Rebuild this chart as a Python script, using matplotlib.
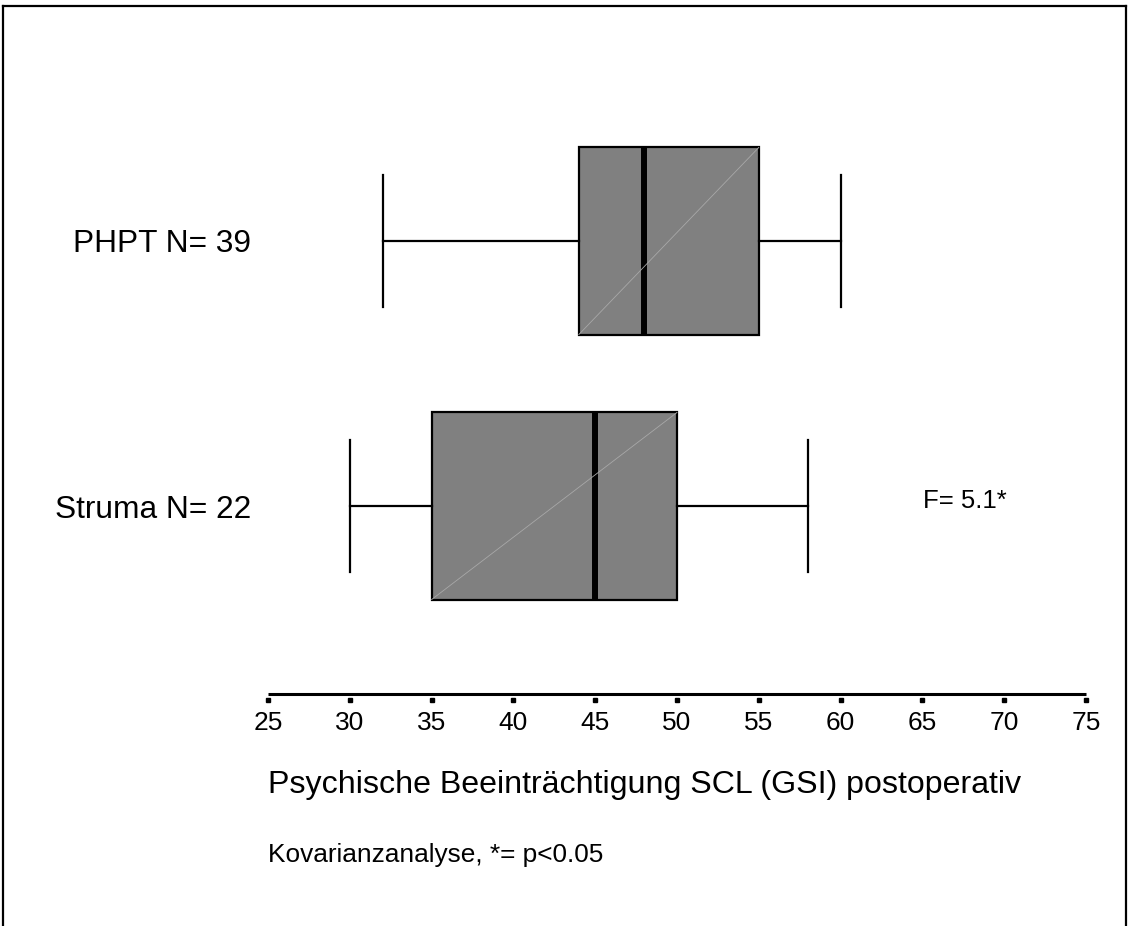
import matplotlib
matplotlib.use("Agg")
import matplotlib.pyplot as plt
from matplotlib.lines import Line2D
from matplotlib.transforms import ScaledTranslation

# ---- data ----
groups = ["Struma N= 22", "PHPT N= 39"]
whislo = [30, 32]
q1 = [35, 44]
med = [45, 48]
q3 = [50, 55]
whishi = [58, 60]
xticks = [25, 30, 35, 40, 45, 50, 55, 60, 65, 70, 75]
xlabel = "Psychische Beeinträchtigung SCL (GSI) postoperativ"
note = "Kovarianzanalyse, *= p<0.05"
ftext = "F= 5.1*"

plt.rcParams['font.family'] = ['Liberation Sans', 'DejaVu Sans']

W, H = 1128, 926
fig = plt.figure(figsize=(W / 100, H / 100), dpi=100)

def px(x0, y0, x1, y1):
    return [x0 / W, 1 - y1 / H, (x1 - x0) / W, (y1 - y0) / H]

ax = fig.add_axes(px(268, 100, 1086, 700))
positions = [1, 2]
bw = 0.706
stats = []
for i, g in enumerate(groups):
    stats.append(dict(label=g, whislo=whislo[i], q1=q1[i], med=med[i],
                      q3=q3[i], whishi=whishi[i], fliers=[]))
ax.bxp(stats, positions=positions, vert=False, widths=bw, capwidths=0.5,
       patch_artist=True, showfliers=False,
       boxprops=dict(facecolor="#808080", edgecolor="black", linewidth=1.6),
       medianprops=dict(color="black", linewidth=4.3, solid_capstyle="butt"),
       whiskerprops=dict(color="black", linewidth=1.6),
       capprops=dict(color="black", linewidth=1.6))
for i, p in enumerate(positions):
    ax.plot([q1[i], q3[i]], [p - bw / 2, p + bw / 2], color="#a8a8a8",
            linewidth=0.6, zorder=2.5)

ax.set_xlim(25, 75)
ax.set_ylim(0.268, 2.532)
ax.set_yticks(positions)
ax.set_yticklabels(groups, fontsize=22.8)
ax.tick_params(axis="y", length=0, pad=12)
ax.set_xticks(xticks)
ax.set_xticklabels([str(t) for t in xticks], fontsize=19)
ax.tick_params(axis="x", length=0, pad=8)
for s in ax.spines.values():
    s.set_visible(False)

# axis line slightly above tick squares
tr = ax.get_xaxis_transform()
tr_up = tr + ScaledTranslation(0, 6 / 100, fig.dpi_scale_trans)
ax.plot([xticks[0], xticks[-1]], [0, 0], transform=tr_up, color="black",
        linewidth=2.2, clip_on=False, solid_capstyle="butt")
ax.plot(xticks, [0] * len(xticks), transform=tr, linestyle="none", marker="s",
        markersize=3, color="black", clip_on=False)

fig.text(923 / W, 1 - 501 / H, ftext, fontsize=18.5, ha="left", va="center")
fig.text(268 / W, 1 - 785 / H, xlabel, fontsize=23.1, ha="left", va="center")
fig.text(268 / W, 1 - 855 / H, note, fontsize=18.9, ha="left", va="center")

# frame
fig.add_artist(Line2D([3 / W, 1126 / W], [1 - 6 / H, 1 - 6 / H], color="black", linewidth=1.6))
fig.add_artist(Line2D([3 / W, 3 / W], [0, 1 - 6 / H], color="black", linewidth=1.6))
fig.add_artist(Line2D([1126 / W, 1126 / W], [0, 1 - 6 / H], color="black", linewidth=1.6))

fig.savefig("out.png", dpi=100)
